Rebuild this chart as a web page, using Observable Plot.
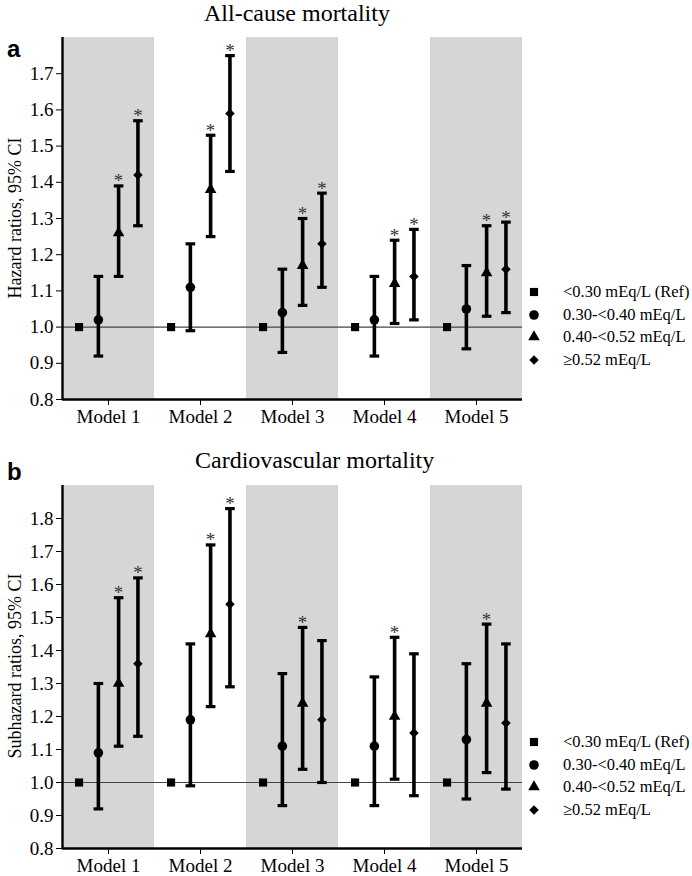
<!DOCTYPE html>
<html><head><meta charset="utf-8">
<script src="https://cdn.jsdelivr.net/npm/d3@7"></script>
<script src="https://cdn.jsdelivr.net/npm/@observablehq/plot@0.6"></script>
<style>
body{margin:0;background:#fff;width:692px;height:876px;position:relative;overflow:hidden;font-family:"Liberation Serif","Times New Roman",serif;color:#000;}
svg text{font-family:"Liberation Serif","Times New Roman",serif !important;}
.abs{position:absolute;}
.title{font-size:24px;line-height:26px;white-space:nowrap;}
.tag{font-family:"Liberation Sans",Arial,sans-serif;font-weight:bold;font-size:24px;line-height:24px;}
.ylab{font-size:18px;line-height:20px;white-space:nowrap;transform:translate(-50%,-50%) rotate(-90deg);}
.legend{font-size:16.5px;}
.legend .row{display:flex;align-items:center;height:22.6px;white-space:nowrap;}
.legend svg{margin-right:21px;}
</style></head><body>
<script>
// ---- data ----
const models = ["Model 1", "Model 2", "Model 3", "Model 4", "Model 5"];
const modelIndex = [1, 2, 3, 4, 5];
const shadedModels = [1, 3, 5];
const groups = ["<0.30 mEq/L (Ref)", "0.30-<0.40 mEq/L", "0.40-<0.52 mEq/L", "≥0.52 mEq/L"];
const groupSymbols = ["square", "circle", "triangle", "diamond2"];
const groupSizes = [4.6, 4.8, 4.3, 4.3];
const groupOffsets = [-0.32, -0.11, 0.11, 0.32];

const allCauseHR   = [[1,1,1,1,1],[1.02,1.11,1.04,1.02,1.05],[1.26,1.38,1.17,1.12,1.15],[1.42,1.59,1.23,1.14,1.16]];
const allCauseLow  = [[null,null,null,null,null],[0.92,0.99,0.93,0.92,0.94],[1.14,1.25,1.06,1.01,1.03],[1.28,1.43,1.11,1.02,1.04]];
const allCauseHigh = [[null,null,null,null,null],[1.14,1.23,1.16,1.14,1.17],[1.39,1.53,1.30,1.24,1.28],[1.57,1.75,1.37,1.27,1.29]];
const allCauseSig  = [[0,0,0,0,0],[0,0,0,0,0],[1,1,1,1,1],[1,1,1,1,1]];

const cvHR   = [[1,1,1,1,1],[1.09,1.19,1.11,1.11,1.13],[1.30,1.45,1.24,1.20,1.24],[1.36,1.54,1.19,1.15,1.18]];
const cvLow  = [[null,null,null,null,null],[0.92,0.99,0.93,0.93,0.95],[1.11,1.23,1.04,1.01,1.03],[1.14,1.29,1.00,0.96,0.98]];
const cvHigh = [[null,null,null,null,null],[1.30,1.42,1.33,1.32,1.36],[1.56,1.72,1.47,1.44,1.48],[1.62,1.83,1.43,1.39,1.42]];
const cvSig  = [[0,0,0,0,0],[0,0,0,0,0],[1,1,1,1,1],[1,1,0,0,0]];

const allCauseTicks = [0.8,0.9,1.0,1.1,1.2,1.3,1.4,1.5,1.6,1.7];
const allCauseDomain = [0.8, 1.8];
const cvTicks = [0.8,0.9,1.0,1.1,1.2,1.3,1.4,1.5,1.6,1.7,1.8];
const cvDomain = [0.8, 1.9];

// ---- helpers ----
const capSymbol = {draw(ctx) { ctx.moveTo(-4.8,-1.6); ctx.lineTo(4.8,-1.6); ctx.lineTo(4.8,1.6); ctx.lineTo(-4.8,1.6); ctx.closePath(); }};

function rows(hr, lo, hi, sig) {
  const out = [];
  groups.forEach((g, gi) => modelIndex.forEach((m, mi) => {
    out.push({group: g, gi, x: m + groupOffsets[gi], hr: hr[gi][mi], lo: lo[gi][mi], hi: hi[gi][mi], sig: sig[gi][mi]});
  }));
  return out;
}

function panel({data, domain, ticks, height, marginTop, marginBottom}) {
  const ci = data.filter(d => d.lo != null);
  const marks = [
    Plot.rect(shadedModels, {x1: d => d - 0.5, x2: d => d + 0.5, y1: domain[0], y2: domain[1], fill: "#d6d6d6"}),
    Plot.ruleY([1], {stroke: "#444", strokeWidth: 1.2}),
    Plot.ruleX(ci, {x: "x", y1: "lo", y2: "hi", stroke: "#000", strokeWidth: 3.6}),
    Plot.dot(ci, {x: "x", y: "lo", symbol: capSymbol, fill: "#000", stroke: null}),
    Plot.dot(ci, {x: "x", y: "hi", symbol: capSymbol, fill: "#000", stroke: null}),
    Plot.text(data.filter(d => d.sig), {x: "x", y: "hi", text: () => "*", dy: 1.5, lineAnchor: "bottom", fontSize: 19, fill: "#333"}),
    ...groups.map((g, gi) => Plot.dot(data.filter(d => d.gi === gi), {x: "x", y: "hr", symbol: groupSymbols[gi], r: groupSizes[gi], fill: "#000", stroke: null})),
    Plot.ruleX([0.5], {y1: domain[0], y2: domain[1], stroke: "#000", strokeWidth: 2.4}),
    Plot.ruleY([domain[0]], {x1: 0.5, x2: 5.5, stroke: "#000", strokeWidth: 2.4})
  ];
  return Plot.plot({
    width: 692, height, marginLeft: 62, marginRight: 170, marginTop, marginBottom,
    style: {fontFamily: "Liberation Serif, Times New Roman, serif", fontSize: "19px", color: "#000", background: "transparent"},
    x: {domain: [0.5, 5.5], ticks: modelIndex, tickFormat: d => models[d - 1], tickSize: 6, tickPadding: 4, label: null},
    y: {domain, ticks, tickFormat: d3.format(".1f"), tickSize: 6, tickPadding: 3, label: null},
    symbol: {type: "identity"},
    marks
  });
}

function legend(top) {
  const div = document.createElement("div");
  div.className = "abs legend";
  div.style.left = "526px"; div.style.top = top + "px";
  groups.forEach((g, gi) => {
    const row = document.createElement("div"); row.className = "row";
    const typ = {square: d3.symbolSquare, circle: d3.symbolCircle, triangle: d3.symbolTriangle, diamond2: d3.symbolDiamond2}[groupSymbols[gi]];
    const r = groupSizes[gi];
    const path = d3.symbol(typ, Math.PI * r * r)();
    row.innerHTML = `<svg width="16" height="16" viewBox="-8 -8 16 16"><path d="${path}" fill="#000"/></svg><span></span>`;
    row.querySelector("span").textContent = g;
    div.appendChild(row);
  });
  document.body.appendChild(div);
}

function addText(cls, text, left, top) {
  const d = document.createElement("div");
  d.className = "abs " + cls; d.textContent = text;
  d.style.left = left + "px"; d.style.top = top + "px";
  document.body.appendChild(d);
  return d;
}

// panel a
const pa = panel({data: rows(allCauseHR, allCauseLow, allCauseHigh, allCauseSig), domain: allCauseDomain, ticks: allCauseTicks,
  height: 432, marginTop: 37, marginBottom: 33});
pa.style.position = "absolute"; pa.style.left = "0px"; pa.style.top = "0px";
document.body.appendChild(pa);

// panel b
const pb = panel({data: rows(cvHR, cvLow, cvHigh, cvSig), domain: cvDomain, ticks: cvTicks,
  height: 444, marginTop: 53, marginBottom: 28});
pb.style.position = "absolute"; pb.style.left = "0px"; pb.style.top = "432px";
document.body.appendChild(pb);

addText("title", "All-cause mortality", 204, 0);
addText("title", "Cardiovascular mortality", 195, 447);
addText("tag", "a", 7, 37);
addText("tag", "b", 7, 460);
addText("ylab", "Hazard ratios, 95% CI", 15, 218);
addText("ylab", "Subhazard ratios, 95% CI", 15, 666);
legend(281);
legend(731);
</script>
</body></html>
